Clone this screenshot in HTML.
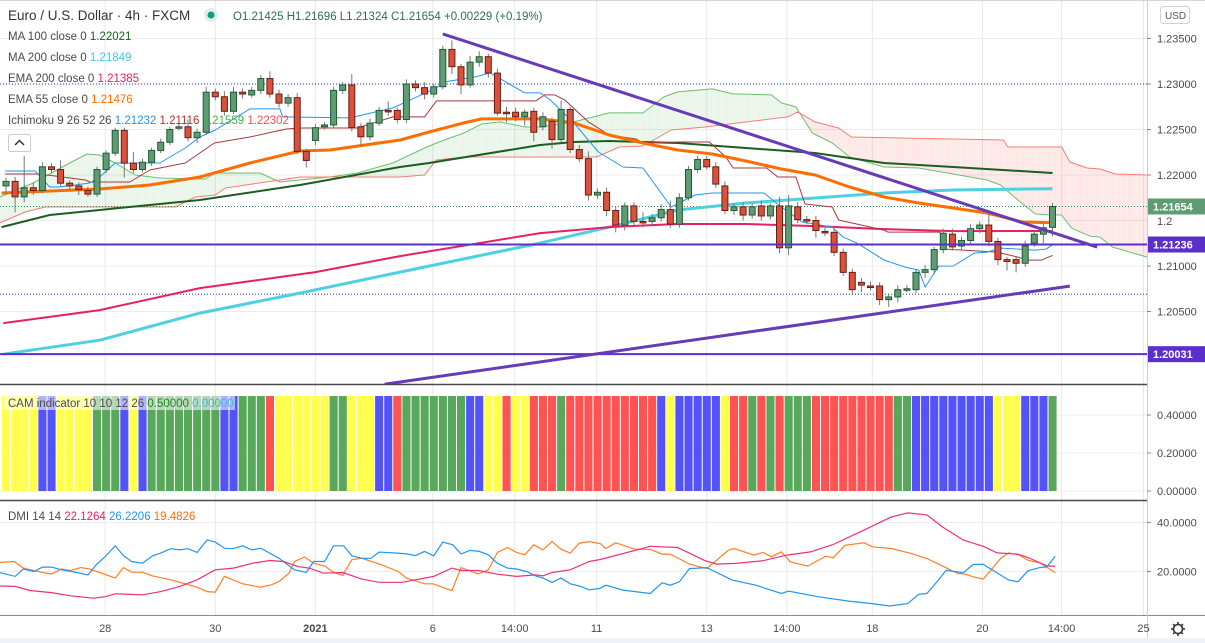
<!DOCTYPE html>
<html><head><meta charset="utf-8"><style>
body{margin:0;background:#fff;overflow:hidden}
svg{display:block;font-family:"Liberation Sans",sans-serif}
</style></head><body>
<svg id="c" width="1205" height="643" xmlns="http://www.w3.org/2000/svg"></svg>
<script>
// ---------- DATA ----------
const opens=[1.2188,1.2193,1.2176,1.2186,1.2183,1.2209,1.2206,1.2191,1.2188,1.2183,1.2179,1.2206,1.2224,1.2249,1.2213,1.2206,1.2214,1.2227,1.2236,1.2252,1.2253,1.2241,1.2247,1.2291,1.2286,1.2270,1.2291,1.2288,1.2293,1.2306,1.2289,1.2279,1.2285,1.2226,1.2238,1.2253,1.2255,1.2293,1.2299,1.2253,1.2242,1.2257,1.2271,1.2271,1.2261,1.2300,1.2296,1.2289,1.2297,1.2338,1.2319,1.2299,1.2324,1.2330,1.2312,1.2269,1.2269,1.2264,1.2270,1.2253,1.2259,1.2239,1.2272,1.2228,1.2218,1.2178,1.2181,1.2161,1.2145,1.2166,1.2149,1.2149,1.2153,1.2162,1.2146,1.2175,1.2206,1.2217,1.2209,1.2188,1.2161,1.2165,1.2156,1.2166,1.2155,1.2166,1.2120,1.2165,1.2151,1.2150,1.2138,1.2137,1.2115,1.2093,1.2082,1.2078,1.2078,1.2063,1.2066,1.2074,1.2074,1.2093,1.2096,1.2118,1.2135,1.2122,1.2128,1.2141,1.2145,1.2127,1.2107,1.2107,1.2103,1.2125,1.2135,1.21425];
const closes=[1.2193,1.2176,1.2186,1.2183,1.2209,1.2206,1.2191,1.2188,1.2184,1.2179,1.2206,1.2224,1.2249,1.2213,1.2206,1.2214,1.2227,1.2236,1.2250,1.2253,1.2241,1.2247,1.2291,1.2286,1.2270,1.2291,1.2289,1.2293,1.2306,1.2289,1.2279,1.2285,1.2226,1.2216,1.2252,1.2255,1.2293,1.2299,1.2252,1.2242,1.2257,1.2271,1.2270,1.2261,1.2300,1.2296,1.2289,1.2297,1.2338,1.2319,1.2299,1.2324,1.2330,1.2312,1.2268,1.2268,1.2264,1.2269,1.2247,1.2264,1.2239,1.2272,1.2228,1.2218,1.2178,1.2181,1.2161,1.2145,1.2166,1.2149,1.2148,1.2153,1.2162,1.2146,1.2175,1.2206,1.2217,1.2209,1.2190,1.2161,1.2165,1.2156,1.2165,1.2155,1.2166,1.2120,1.2166,1.2151,1.2150,1.2139,1.2137,1.2115,1.2093,1.2074,1.2079,1.2077,1.2063,1.2066,1.2074,1.2075,1.2093,1.2096,1.2118,1.2136,1.2121,1.2128,1.2141,1.2145,1.2127,1.2107,1.2105,1.2103,1.2122,1.2135,1.2142,1.21654];
const wickUpPips=[4,5,35,6,5,4,10,3,4,4,3,3,3,3,12,4,3,4,3,3,8,4,6,4,6,6,4,4,4,8,5,4,5,3,4,3,4,3,12,4,5,4,10,3,5,4,6,3,4,10,3,7,6,3,5,6,5,3,4,5,4,10,3,5,8,4,5,4,4,4,10,4,6,10,5,4,4,4,5,5,4,5,4,6,3,10,12,5,4,5,4,4,4,4,5,5,4,4,5,4,4,5,3,5,6,4,5,4,12,4,3,4,6,4,5,4];
const wickDnPips=[10,17,6,5,3,4,3,4,6,3,3,4,3,16,4,3,4,3,3,3,4,6,3,4,5,3,5,3,4,4,5,4,3,8,5,3,3,4,4,10,4,3,5,4,4,4,6,4,3,8,10,3,5,5,3,10,5,10,10,4,10,3,4,4,6,4,6,8,6,4,6,4,4,4,4,3,4,3,4,4,5,6,4,5,4,6,8,4,4,8,4,4,4,6,8,4,6,8,6,3,4,6,5,4,4,4,5,5,5,6,10,10,4,4,10,10];

const ma100Idx=[-0.5,4.8,10.3,21.3,32.3,43.3,46.5,58.7,62.4,66.3,73.8,81.3,88.9,96.5,104.1,115];
const ma100Val=[1.21428,1.2156,1.21615,1.21725,1.2189,1.22088,1.22132,1.2233,1.22363,1.22374,1.22352,1.22297,1.22242,1.22132,1.22088,1.22022];
const ema55Idx=[-0.5,10.3,15.8,21.3,26.8,32.3,35.6,43.3,46.5,50.3,52.3,58.7,62.4,66.3,70,73.8,77.6,81.3,85.2,88.9,92.7,96.5,100.3,104.1,107.8,111.7,115];
const ema55Val=[1.21802,1.21846,1.2189,1.21978,1.22132,1.22264,1.22275,1.22385,1.22473,1.22572,1.22616,1.22616,1.22572,1.2244,1.22352,1.22275,1.22231,1.22154,1.22066,1.22,1.21868,1.21758,1.21692,1.21637,1.21582,1.21483,1.21476];
const ma200Idx=[-0.3,10.3,21.3,32.3,43.3,58.7,66.3,73.8,81.3,88.9,96.5,104.1,115];
const ma200Val=[1.20031,1.20185,1.20482,1.20702,1.20933,1.21252,1.21428,1.21615,1.21692,1.21747,1.21802,1.21835,1.21849];
const ema200Idx=[-0.3,10.3,21.3,34,43.3,58.7,66.3,73.8,81.3,88.9,96.5,104.1,115];
const ema200Val=[1.20372,1.20515,1.20757,1.20933,1.21109,1.21362,1.21428,1.21461,1.21461,1.21439,1.21406,1.21384,1.21385];
const tenkanIdx=[-0.1,3.2,4.8,5.9,9.2,10.3,12,16.9,19.7,21.3,23,26.8,30.1,30.4,37.8,42.5,47.3,48.2,51.6,53.2,57,58.7,59.8,62.4,65.1,67.8,70,73.1,75.7,77.6,83.3,85.2,87.5,90.8,92,93.5,96.5,98.8,100.3,101,102.5,104.1,106.4,107.8,109.3,113.1,114.3,115];
const tenkanVal=[1.22044,1.22044,1.21868,1.21868,1.21912,1.21978,1.22132,1.22132,1.22297,1.22418,1.22495,1.22726,1.22726,1.22638,1.22627,1.22737,1.22957,1.23023,1.23078,1.23122,1.22902,1.22902,1.22825,1.22572,1.22253,1.22088,1.22077,1.21648,1.2178,1.21802,1.21802,1.21648,1.21483,1.21428,1.21318,1.21252,1.21065,1.20988,1.20955,1.20768,1.20999,1.21,1.21142,1.21153,1.21197,1.21175,1.21186,1.21232];
const kijunIdx=[-0.1,3.7,8.7,9.2,13.6,15.8,19.7,21.3,22.9,26.8,30.8,32.3,38.6,42.5,46,47.3,58.2,59.2,60.3,61.4,64,66.3,69.2,70,73.8,77.3,79.1,79.9,83.6,84.8,86.8,87.8,90.8,91.5,96.5,96.9,102.6,103.3,108.9,111.2,112.3,113.8,115];
const kijunVal=[1.22011,1.22011,1.21945,1.21923,1.21923,1.22055,1.22132,1.22242,1.22352,1.22418,1.22506,1.22517,1.22517,1.22638,1.22638,1.22814,1.22814,1.2288,1.2288,1.22825,1.22583,1.2244,1.22396,1.22352,1.22363,1.22363,1.22198,1.22077,1.22077,1.21978,1.21978,1.21681,1.21648,1.21505,1.21395,1.21373,1.21373,1.21186,1.21153,1.21098,1.21065,1.21065,1.21116];
const spanAIdx=[-0.7,3,7,8.9,10.3,12,14.2,16.9,21.9,23,27.9,30.1,35.6,38.6,42.5,46,47.3,50.3,52.3,54.3,57,58.7,62.4,66.3,70,72.3,73.8,77.6,79.9,84.1,85.2,86.8,88.6,90.8,92.7,96.5,100.3,104.1,107.8,109.3,111.2,113.1,115,116,117.1,119.1,120.2,121.6,125.4];
const spanAVal=[1.21758,1.21912,1.22132,1.22231,1.2222,1.22132,1.22,1.21967,1.21956,1.22022,1.22022,1.21923,1.21978,1.22022,1.22132,1.22297,1.22352,1.22462,1.22561,1.22583,1.22528,1.22528,1.22583,1.22682,1.22682,1.22858,1.22913,1.22946,1.22891,1.2288,1.22792,1.22748,1.22462,1.22352,1.22198,1.22088,1.22077,1.22011,1.21945,1.2189,1.21725,1.21571,1.2156,1.2156,1.21417,1.21329,1.21318,1.21208,1.21098];
const spanBIdx=[-0.7,2.1,4.3,18.6,20.8,23,24.1,32.3,43.3,46,47.3,50.3,64.9,67.4,70,73.1,76.8,85.9,87,88.9,91.5,92.9,109.6,110.1,116,116.9,118.8,120.2,121.9,125.4];
const spanBVal=[1.21472,1.21593,1.21648,1.21648,1.21758,1.2178,1.21857,1.21978,1.21978,1.22,1.22165,1.22198,1.22198,1.22308,1.22319,1.22495,1.22528,1.22638,1.22693,1.22583,1.22517,1.22418,1.22385,1.22308,1.22308,1.22143,1.22077,1.22066,1.22011,1.22];

const camStates="YYYYBBYYYYGGGBYBGGGGGGGGBBGGGRYYYYYYGGYYYBBRGGGGGGGBBYYRYYRRRGRRRRRRRRRRBYBBBBBYRRGRGRGGGRRRRRRRRRGGBBBBBBBBBYYYBBBG".split("");
const camValues=camStates.map(()=>0.5);

const dmiBlueIdx=[-0.7,1,1.9,3.1,4,5,6.1,7.8,9,9.9,10.9,12,12.9,13.8,15,16.1,17,18.1,19.1,20,21,22.1,23,24,24.9,26,27,28,30,31.7,33,33.8,35,36,37.1,38,39.1,40.1,41,43.1,44,45,46,47,48,49.1,50,51,52,53,54,55.1,56.1,57.2,58.2,59,60,61,62,63,64.1,65.3,65.9,67.8,70.8,72.1,73,74,75.1,77,79.8,82.4,85.2,86,89.2,92.6,95.2,97.1,99.1,100.3,101.2,102.5,103.3,105.2,106.3,107.4,110.2,111.2,112.3,113.6,114.4,115.3];
const dmiBlueVal=[19.6,18,21,20,21.8,21.8,20.7,19.6,18.6,22.7,26.1,30.5,26.5,24.1,23.4,26.4,27.5,29.3,28.8,29.3,27.8,32.9,32,29.5,29.3,30.5,28.8,29.5,25.4,20.7,19.6,24.1,24.1,30.5,30.5,26.4,25.4,25.4,27.9,27.5,27.2,26.5,28.2,26.4,32,30.9,27.2,28.6,28.2,26.8,23.4,21.4,21,20,18.2,17.3,15.6,17.3,15,14.1,12.5,13.1,14.4,12.4,11,15.4,14.4,15.8,21.2,21.6,16.5,14.4,11,12,9.7,7.9,6.9,5.9,6.9,10.7,11,16.7,20.5,19.5,22.9,22.9,16.5,15.8,20.3,21.6,21.9,26.2];
const dmiOrangeIdx=[-0.7,0.9,1.9,4,5,6.1,7.1,8.2,9.1,10.3,12,12.9,13.8,15,16.1,18.1,19.1,21,22.1,23,24,26,28,29.2,30,31.1,31.7,32.8,33.8,35,36,37,38,39.1,41,43.1,44,46,46.9,49,50,51.9,53,54,55.1,56.1,57,58,59,60,61,62,63,64.1,65.3,65.9,67,69.1,70.8,72.1,73,75.1,77,79.4,80,82.2,83.2,84.1,85.2,86.2,88.1,90.1,90.9,92.2,94.3,95.2,97.3,99.5,101.2,102.9,104.6,105.5,106.3,107.4,109.3,110.2,111.4,112.3,113.6,115.3];
const dmiOrangeVal=[23.7,24.1,21.4,19.6,19,21,20.4,21.6,21.1,19.6,17.3,21.6,19.7,19.7,18.2,16.6,15.6,13.6,11.8,11.6,18,15,13.6,14.6,15.9,19.3,24.1,25.9,23.4,22.3,19.6,18.4,24.8,25.4,23.1,20,17.3,15,15,12.2,21.6,19,20.7,27.8,29.8,27.8,26.8,30.9,28.8,32.2,29.1,27.5,31.6,32.2,31.4,29.4,31.7,29.1,29,27.1,27.1,23,21.2,28.7,29.4,26.7,27.8,26,28,23.9,22.2,26.3,25.6,30.7,31.7,30.1,29.4,27.3,25.3,22.2,19.2,18.9,17.8,16.9,25.3,27.6,26.7,24.6,23.5,19.5];
const dmiPinkIdx=[-0.7,1,2.7,5,7.1,9.6,10.9,12,15,17,19.1,21,23,25,27.1,29,30.5,32.1,33.3,34.9,37,39.1,41,43.5,46,47,49,50,51.9,54,56.1,58.2,59,60,62,64.1,65.3,70.8,73.8,76.8,78.1,80.2,83.2,85.8,88.4,90.9,94.3,97.3,99.1,101.2,102.9,105.2,107.4,108.9,111.2,112.3,114.4,115.3];
const dmiPinkVal=[14.1,13.9,12.2,11.4,10.1,9.1,9.7,10.9,10.5,11.8,13.9,16.6,20.7,21.4,23.4,24.5,24.1,22,21.4,19.3,19.6,16.9,15.6,15.6,17.3,18,21.4,20.4,20.4,18.9,18,18.6,18.2,19.6,20.7,24.1,24.9,30.3,29.8,24.4,23,23.3,24.4,26.7,28,31,36.9,42.3,43.9,43.1,38.2,32.8,30.3,27.6,27.1,25.7,22.3,22.1];

const priceTicks=[1.235,1.23,1.225,1.22,1.215,1.21,1.205];
const priceTickLabels=["1.23500","1.23000","1.22500","1.22000","","1.21000","1.20500"];
const camTicks=[0.4,0.2,0];
const camTickLabels=["0.40000","0.20000","0.00000"];
const dmiTicks=[40,20];
const dmiTickLabels=["40.0000","20.0000"];
const timeTickIdx=[10.9,23,34,46.9,55.9,64.9,77,85.8,95.2,107.3,116,125];
const timeTickLabels=["28","30","2021","6","14:00","11","13","14:00","18","20","14:00","25"];
const trendDownIdx=[48,119.9], trendDownVal=[1.2355,1.21208];
const trendUpIdx=[41.6,116.9], trendUpVal=[1.19701,1.20779];
const hLevels=[1.21236,1.20031];
const lastClose=1.21654;

// ---------- SCALES ----------
const xI=i=>6+i*9.1;
const yP=p=>175+(1.22-p)*9100;
const yC=v=>491-v*190;
const yD=v=>571.5-(v-20)*2.45;
const NS="http://www.w3.org/2000/svg";
const svg=document.getElementById('c');
function el(tag,attrs,parent){const e=document.createElementNS(NS,tag);for(const k in attrs)e.setAttribute(k,attrs[k]);(parent||svg).appendChild(e);return e;}
function txt(s,attrs,parent){const t=el('text',attrs,parent);t.textContent=s;return t;}
function interp(ix,vals,t){if(t<=ix[0])return vals[0];for(let k=1;k<ix.length;k++){if(t<=ix[k]){const f=(t-ix[k-1])/(ix[k]-ix[k-1]);return vals[k-1]+f*(vals[k]-vals[k-1]);}}return vals[vals.length-1];}
function pathOf(ix,vals,ys){return ix.map((t,k)=>(k?'L':'M')+xI(t).toFixed(1)+' '+ys(vals[k]).toFixed(1)).join(' ');}

// clip for main pane
const defs=el('defs',{});
const cp=el('clipPath',{id:'mainclip'},defs);el('rect',{x:0,y:0,width:1147,height:384},cp);
const cp2=el('clipPath',{id:'dmiclip'},defs);el('rect',{x:0,y:501,width:1147,height:114},cp2);

// ---------- GRID ----------
const grid=el('g',{});

timeTickIdx.forEach(t=>{const x=xI(t);el('line',{x1:x,x2:x,y1:0,y2:615,stroke:'#e8e8e8','stroke-width':1},grid);});
priceTicks.forEach(p=>el('line',{x1:0,x2:1147,y1:yP(p),y2:yP(p),stroke:'#ececec','stroke-width':1},grid));
camTicks.forEach(v=>el('line',{x1:0,x2:1147,y1:yC(v),y2:yC(v),stroke:'#ececec'},grid));
dmiTicks.forEach(v=>el('line',{x1:0,x2:1147,y1:yD(v),y2:yD(v),stroke:'#ececec'},grid));

// ---------- MAIN PANE ----------
const main=el('g',{'clip-path':'url(#mainclip)'});

// cloud
const cloud=el('g',{},main);

for(let t=-0.7;t<125.4;t+=0.25){const t2=Math.min(t+0.25,125.4);
 const a1=interp(spanAIdx,spanAVal,t),b1=interp(spanBIdx,spanBVal,t),a2=interp(spanAIdx,spanAVal,t2),b2=interp(spanBIdx,spanBVal,t2);
 const col=(a1+a2)>(b1+b2)?'rgba(76,175,80,0.1)':'rgba(244,67,54,0.1)';
 el('polygon',{points:`${xI(t)},${yP(a1)} ${xI(t2)+0.3},${yP(a2)} ${xI(t2)+0.3},${yP(b2)} ${xI(t)},${yP(b1)}`,fill:col},cloud);}
function series(name,ix,vals,color,w,op){const p=el('path',{d:pathOf(ix,vals,yP),fill:'none',stroke:color,'stroke-width':w,'stroke-linejoin':'round',opacity:op||1},main);return p;}
series('ichimoku-span-a',spanAIdx,spanAVal,'#6cbf6f',1);
series('ichimoku-span-b',spanBIdx,spanBVal,'#f77c74',1);
// dotted levels
[[1.23,'#1e3fa8'],[1.2069,'#1e3fa8'],[lastClose,'#2e8b57']].forEach(([p,c],k)=>{const l=el('line',{x1:0,x2:1147,y1:yP(p),y2:yP(p),stroke:c,'stroke-width':1,'stroke-dasharray':'1 2'},main);});
series('ma200-line',ma200Idx,ma200Val,'#4dd0e1',3);
series('ema200-line',ema200Idx,ema200Val,'#e91e63',2);
series('ma100-line',ma100Idx,ma100Val,'#1b5e20',2);
series('ichimoku-kijun',kijunIdx,kijunVal,'#a33a3a',1);
series('ichimoku-tenkan',tenkanIdx,tenkanVal,'#2196f3',1);
series('ema55-line',ema55Idx,ema55Val,'#ff6d00',3);
// candles
const cg=el('g',{},main);
opens.forEach((o,i)=>{const c=closes[i];const up=c>=o;const x=xI(i);
 const hi=Math.max(o,c)+(wickUpPips[i]||4)*0.0001, lo=Math.min(o,c)-(wickDnPips[i]||4)*0.0001;
 const g=el('g',{},cg);
 
 
 el('line',{x1:x,x2:x,y1:yP(hi),y2:yP(lo),stroke:'#777','stroke-width':1},g);
 const top=yP(Math.max(o,c)),h=Math.max(1.5,yP(Math.min(o,c))-top);
 el('rect',{x:x-3,y:top,width:6,height:h,fill:up?'#5f9c73':'#d9513c',stroke:up?'#1f5a34':'#6b1c10','stroke-width':1},g);});
// purple drawings
hLevels.forEach((p,k)=>{const l=el('line',{x1:0,x2:1147,y1:yP(p),y2:yP(p),stroke:'#5b2fc9','stroke-width':2},main);});
[[trendDownIdx,trendDownVal,'trendline-down'],[trendUpIdx,trendUpVal,'trendline-up']].forEach(([ix,v,n])=>{const l=el('line',{x1:xI(ix[0]),y1:yP(v[0]),x2:xI(ix[1]),y2:yP(v[1]),stroke:'#673ab7','stroke-width':3},main);});

// ---------- CAM PANE ----------
const cam=el('g',{});
const camColors={Y:'#ffff4d',B:'#5353f8',G:'#59a75b',R:'#fd5353'};
camStates.forEach((s,i)=>{const x=xI(i);const r=el('rect',{x:x-4,y:yC(camValues[i]),width:8.1,height:yC(0)-yC(camValues[i]),fill:camColors[s]},cam);
 
 });

// ---------- DMI PANE ----------
const dmi=el('g',{'clip-path':'url(#dmiclip)'});
[[dmiOrangeIdx,dmiOrangeVal,'#ff7f27','dmi-adx-line'],[dmiBlueIdx,dmiBlueVal,'#2196f3','dmi-plus-line'],[dmiPinkIdx,dmiPinkVal,'#ef2f7a','dmi-minus-line']].forEach(([ix,v,c,n])=>{const p=el('path',{d:pathOf(ix,v,yD),fill:'none',stroke:c,'stroke-width':1.2},dmi);});

// ---------- FRAME ----------
el('line',{x1:0,x2:1205,y1:0.5,y2:0.5,stroke:'#d6d6d6'});
el('line',{x1:0,x2:1147,y1:384.5,y2:384.5,stroke:'#4a4a4a','stroke-width':1.5});
el('line',{x1:0,x2:1147,y1:500.5,y2:500.5,stroke:'#4a4a4a','stroke-width':1.5});
el('line',{x1:0,x2:1205,y1:615.5,y2:615.5,stroke:'#8a8a8a'});
el('line',{x1:1147.5,x2:1147.5,y1:0,y2:643,stroke:'#cfcfcf'});
el('rect',{x:0,y:638,width:1205,height:5,fill:'#eef1f5'});

// ---------- AXES ----------
const ax=el('g',{'font-size':11,fill:'#4a4a4a'});
priceTicks.forEach((p,k)=>{if(!priceTickLabels[k])return;el('line',{x1:1147,x2:1151,y1:yP(p),y2:yP(p),stroke:'#888'},ax);txt(priceTickLabels[k],{x:1157,y:yP(p)+4},ax);});
txt('1.2',{x:1157,y:225,'font-size':11,fill:'#4a4a4a'});
camTicks.forEach((v,k)=>{el('line',{x1:1147,x2:1151,y1:yC(v),y2:yC(v),stroke:'#888'},ax);txt(camTickLabels[k],{x:1157,y:yC(v)+4},ax);});
dmiTicks.forEach((v,k)=>{el('line',{x1:1147,x2:1151,y1:yD(v),y2:yD(v),stroke:'#888'},ax);txt(dmiTickLabels[k],{x:1157,y:yD(v)+4},ax);});
const tx=el('g',{'font-size':11,fill:'#4a4a4a','text-anchor':'middle'});
timeTickIdx.forEach((t,k)=>{if(xI(t)<1150)txt(timeTickLabels[k],{x:xI(t),y:632,'font-weight':timeTickLabels[k]==='2021'?'bold':'normal'},tx);});
// price labels
function tag(label,p,bg,name,x0,w){const g=el('g',{});const y=typeof p==='number'?yP(p):p;el('rect',{x:x0||1148,y:y-8,width:w||57,height:16,fill:bg},g);txt(label,{x:(x0||1148)+5,y:y+4,fill:'#fff','font-size':11,'font-weight':'bold'},g);return g;}
tag('1.21654',lastClose,'#5f9c73','last-price-label');
tag('11:25',225,'#5f9c73','countdown-label',1164,38);
tag('1.21236',hLevels[0],'#5b2fc9','level-label-1');
tag('1.20031',hLevels[1],'#5b2fc9','level-label-2');
// USD button
const usd=el('g',{});
el('rect',{x:1160.5,y:6.5,width:29,height:17,rx:3,fill:'#fff',stroke:'#d0d0d0'},usd);txt('USD',{x:1165,y:19,'font-size':10,fill:'#555'},usd);
// gear
const gear=el('g',{});
el('circle',{cx:1178,cy:629,r:4.5,fill:'none',stroke:'#333','stroke-width':1.6},gear);
for(let a=0;a<8;a++){const r=a*Math.PI/4;el('line',{x1:1178+Math.cos(r)*4.5,y1:629+Math.sin(r)*4.5,x2:1178+Math.cos(r)*7,y2:629+Math.sin(r)*7,stroke:'#333','stroke-width':1.6},gear);}

// ---------- LEGENDS ----------
const lg=el('g',{'font-size':11.5,fill:'#4a4a4a'});
txt('Euro / U.S. Dollar · 4h · FXCM',{x:8,y:20,'font-size':13.5,fill:'#333'},lg);
el('circle',{cx:211,cy:15,r:7,fill:'#dff0ec'},lg);el('circle',{cx:211,cy:15,r:3.5,fill:'#0f9d80'},lg);
txt('O1.21425  H1.21696  L1.21324  C1.21654  +0.00229 (+0.19%)',{x:233,y:20,'font-size':11.5,fill:'#2e6e4e','xml:space':'preserve'},lg);
function legRow(y,parts){const t=el('text',{x:8,y:y},lg);parts.forEach(([s,c])=>{const sp=el('tspan',{fill:c},t);sp.textContent=s;});return t;}
legRow(40,[['MA 100 close 0  ','#4a4a4a'],['1.22021','#1b5e20']]).setAttribute('xml:space','preserve');
legRow(61,[['MA 200 close 0  ','#4a4a4a'],['1.21849','#3cc6e0']]).setAttribute('xml:space','preserve');
legRow(82,[['EMA 200 close 0  ','#4a4a4a'],['1.21385','#e91e63']]).setAttribute('xml:space','preserve');
legRow(103,[['EMA 55 close 0  ','#4a4a4a'],['1.21476','#ff6d00']]).setAttribute('xml:space','preserve');
legRow(124,[['Ichimoku 9 26 52 26  ','#4a4a4a'],['1.21232  ','#2196f3'],['1.21116  ','#b03030'],['1.21559  ','#4caf50'],['1.22302','#f05050']]).setAttribute('xml:space','preserve');
const cb=el('g',{});
el('rect',{x:8.5,y:134.5,width:22,height:17,rx:2,fill:'#fff',stroke:'#ccc'},cb);
el('path',{d:'M15 145 L19.5 140.5 L24 145',fill:'none',stroke:'#333','stroke-width':1.5},cb);
// CAM legend
el('rect',{x:3,y:396,width:232,height:14,fill:'rgba(255,255,255,0.55)'});
const cl=el('text',{x:8,y:407,'font-size':11.5,'xml:space':'preserve'});
[['CAM indicator 10 10 12 26  ','#4a4a4a'],['0.50000  ','#1e8a1e'],['0.00000','#3cb8e0']].forEach(([s,c])=>{const sp=el('tspan',{fill:c},cl);sp.textContent=s;});
const dl=el('text',{x:8,y:520,'font-size':11.5,'xml:space':'preserve'});
[['DMI 14 14  ','#4a4a4a'],['22.1264  ','#e91e63'],['26.2206  ','#2196f3'],['19.4826','#ff6d00']].forEach(([s,c])=>{const sp=el('tspan',{fill:c},dl);sp.textContent=s;});
</script>
</body></html>
